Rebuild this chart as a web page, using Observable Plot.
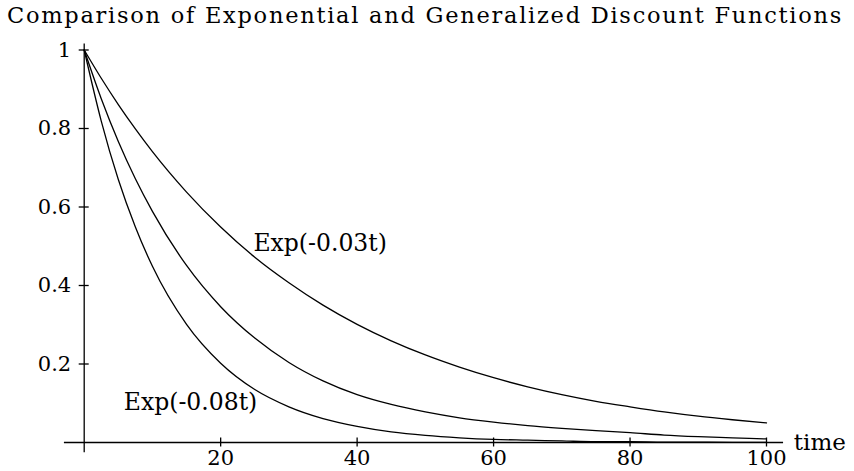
<!DOCTYPE html>
<html>
<head>
<meta charset="utf-8">
<script src="https://cdn.jsdelivr.net/npm/d3@7"></script>
<script src="https://cdn.jsdelivr.net/npm/@observablehq/plot@0.6"></script>
<style>
  html, body { margin: 0; padding: 0; background: #fff; }
  #title { font-family: "DejaVu Serif", serif; font-size: 22.5px; line-height: 31px; height: 30px;
           padding-left: 7px; white-space: nowrap; color: #000; overflow: hidden; }
  #chart svg { display: block; }
</style>
</head>
<body>
<div id="title"><span id="tspan">Comparison of Exponential and Generalized Discount Functions</span></div>
<div id="chart"></div>
<script>
// time points
const times = [0, 2.5, 5, 7.5, 10, 15, 20, 25, 30, 35, 40, 45, 50, 55, 60, 65, 70, 75, 80, 85, 90, 95, 100];
// Exp(-0.03t)
const slowExp = [1, 0.928, 0.861, 0.799, 0.741, 0.638, 0.549, 0.472, 0.407, 0.350, 0.301, 0.259, 0.223, 0.192, 0.165, 0.142, 0.122, 0.105, 0.091, 0.078, 0.067, 0.058, 0.050];
// generalized (middle) discount function
const generalized = [1, 0.876, 0.767, 0.672, 0.589, 0.451, 0.346, 0.266, 0.204, 0.157, 0.122, 0.097, 0.078, 0.063, 0.052, 0.043, 0.036, 0.030, 0.025, 0.019, 0.015, 0.012, 0.009];
// Exp(-0.08t)
const fastExp = [1, 0.819, 0.670, 0.549, 0.449, 0.301, 0.202, 0.135, 0.091, 0.061, 0.041, 0.027, 0.018, 0.012, 0.008, 0.006, 0.004, 0.002, 0.002, 0.001, 0.001, 0.0005, 0.0003];

const xTicks = [20, 40, 60, 80, 100];
const xTickLabels = ["20", "40", "60", "80", "100"];
const yTicks = [0.2, 0.4, 0.6, 0.8, 1];
const yTickLabels = ["0.2", "0.4", "0.6", "0.8", "1"];

const labelNames = ["Exp(-0.03t)", "Exp(-0.08t)"];
const labelT = [24.8, 5.8];
const labelV = [0.487, 0.082];
const axisName = "time";

const series = [slowExp, generalized, fastExp];
const rows = [];
series.forEach((vals, s) => vals.forEach((v, i) => rows.push({s, t: times[i], v})));
const labels = labelNames.map((name, i) => ({name, t: labelT[i], v: labelV[i]}));

const font = "DejaVu Serif";
const plot = Plot.plot({
  width: 854,
  height: 441,
  marginLeft: 83.7,
  marginRight: 88,
  marginTop: 19.5,
  marginBottom: 29,
  style: {fontFamily: font, background: "#fff", color: "#000"},
  x: {domain: [0, 100], axis: null},
  y: {domain: [0, 1], axis: null},
  marks: [
    // axes
    Plot.ruleY([0], {x1: -2.9, x2: 102.5, stroke: "#000", strokeWidth: 1.3}),
    Plot.ruleX([0], {y1: -0.026, y2: 1.015, stroke: "#000", strokeWidth: 1.3}),
    // tick crosses
    Plot.ruleX(xTicks, {x: d => d, y1: 0, y2: 0, insetTop: -4.5, insetBottom: -4.5, stroke: "#000", strokeWidth: 1.3}),
    Plot.ruleY(yTicks, {y: d => d, x1: 0, x2: 0, insetLeft: -5, insetRight: -5, stroke: "#000", strokeWidth: 1.3}),
    // tick labels
    Plot.text(xTicks, {x: d => d, y: 0, text: (d, i) => xTickLabels[i], dy: 16, fontSize: 21, fill: "#000"}),
    Plot.text(yTicks, {x: 0, y: d => d, text: (d, i) => yTickLabels[i], dx: -13, textAnchor: "end", fontSize: 21, fill: "#000"}),
    Plot.text([axisName], {x: 104, y: 0, text: d => d, textAnchor: "start", fontSize: 23, fill: "#000"}),
    // curves
    Plot.line(rows, {x: "t", y: "v", z: "s", curve: "monotone-x", stroke: "#000", strokeWidth: 1.3}),
    // curve labels
    Plot.text(labels, {x: "t", y: "v", text: "name", textAnchor: "start", lineAnchor: "bottom", fontSize: 23.5, fill: "#000"})
  ]
});
document.getElementById("chart").appendChild(plot);

// stretch title to reference width
const span = document.getElementById("tspan");
const w = span.getBoundingClientRect().width;
const target = 836;
span.style.letterSpacing = ((target - w) / span.textContent.length) + "px";
</script>
</body>
</html>
